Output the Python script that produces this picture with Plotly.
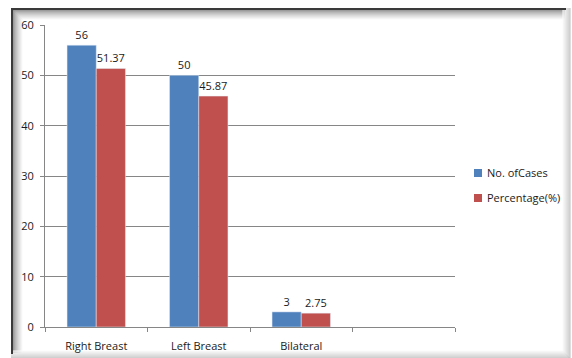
import plotly.graph_objects as go

categories = ["Right Breast", "Left Breast", "Bilateral"]
cases = [56, 50, 3]
percent = [51.37, 45.87, 2.75]
case_labels = ["56", "50", "3"]
pct_labels = ["51.37", "45.87", "2.75"]
series_names = ["No. ofCases", "Percentage(%)"]
series_colors = ["#4F81BD", "#C0504D"]
y_ticks = [0, 10, 20, 30, 40, 50, 60]

W, H = 572, 358
L, R, T, B = 45, 455, 25, 327

def px(x):
    return (x - L) / (R - L)

def py(y):
    return (B - y) / (B - T)

font = dict(family="Open Sans, Liberation Sans, sans-serif", size=11, color="#1a1a1a")

fig = go.Figure()
fig.add_trace(go.Bar(x=categories, y=cases, name=series_names[0], marker_color=series_colors[0],
                     text=case_labels, textposition="outside", cliponaxis=False,
                     textfont=font, showlegend=False))
fig.add_trace(go.Bar(x=categories, y=percent, name=series_names[1], marker_color=series_colors[1],
                     text=pct_labels, textposition="outside", cliponaxis=False,
                     textfont=font, showlegend=False))

shapes = []
annotations = []
# inner shadow top/left (dark -> white)
for i in range(12):
    c = int(60 + (255 - 60) * (i / 11) ** 0.6)
    col = f"rgb({c},{c},{c})"
    shapes.append(dict(type="line", xref="paper", yref="paper", x0=px(12 + i), x1=px(565),
                       y0=py(9 + i), y1=py(9 + i), line=dict(color=col, width=1), layer="below"))
    shapes.append(dict(type="line", xref="paper", yref="paper", x0=px(12 + i), x1=px(12 + i),
                       y0=py(9 + i), y1=py(353), line=dict(color=col, width=1), layer="below"))
# outer light shadow right/bottom
for i in range(8):
    c = int(250 - 60 * (i / 7))
    col = f"rgb({c},{c},{c})"
    shapes.append(dict(type="line", xref="paper", yref="paper", x0=px(563 + i), x1=px(563 + i),
                       y0=py(8), y1=py(352 + i), line=dict(color=col, width=1), layer="below"))
    shapes.append(dict(type="line", xref="paper", yref="paper", x0=px(11), x1=px(563 + i),
                       y0=py(351 + i), y1=py(351 + i), line=dict(color=col, width=1), layer="below"))
# dark top and left edges
shapes.append(dict(type="line", xref="paper", yref="paper", x0=px(11), x1=px(566),
                   y0=py(9), y1=py(9), line=dict(color="#3a3a3a", width=2), layer="below"))
shapes.append(dict(type="line", xref="paper", yref="paper", x0=px(12), x1=px(12),
                   y0=py(8), y1=py(354), line=dict(color="#3a3a3a", width=2), layer="below"))

# legend (drawn as swatches + text)
legend_y = [173, 198]
for name, col, ly in zip(series_names, series_colors, legend_y):
    shapes.append(dict(type="rect", xref="paper", yref="paper", x0=px(474), x1=px(482),
                       y0=py(ly - 4), y1=py(ly + 4), fillcolor=col, line=dict(width=0)))
    annotations.append(dict(xref="paper", yref="paper", x=px(485), y=py(ly), text=name,
                            showarrow=False, xanchor="left", yanchor="middle", font=font))

fig.update_layout(
    width=W, height=H,
    margin=dict(l=L, r=W - R, t=T, b=H - B, autoexpand=False),
    paper_bgcolor="white", plot_bgcolor="white",
    barmode="group", bargap=0.43, bargroupgap=0,
    font=font,
    showlegend=False,
    shapes=shapes,
    annotations=annotations,
    xaxis=dict(categoryorder="array", categoryarray=categories + [" "],
               range=[-0.5, 3.5], tickson="boundaries", ticks="outside", ticklen=4,
               tickcolor="#868686", showline=True, linecolor="#868686", linewidth=1,
               showgrid=False, tickfont=font, fixedrange=True, ticklabelstandoff=9),
    yaxis=dict(range=[0, 60], tickvals=y_ticks, ticks="outside", ticklen=4,
               tickcolor="#868686", showline=True, linecolor="#868686", linewidth=1,
               showgrid=True, gridcolor="#868686", gridwidth=1, zeroline=False,
               tickfont=font, ticklabelstandoff=4),
)
fig.write_html("out.html")
